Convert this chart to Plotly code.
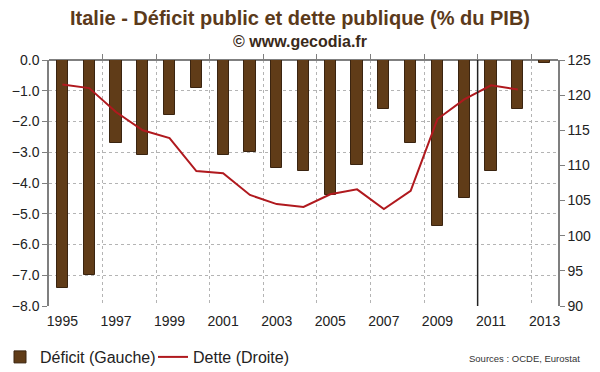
import plotly.graph_objects as go

years = list(range(1995, 2014))
deficit = [-7.4, -7.0, -2.7, -3.1, -1.8, -0.9, -3.1, -3.0, -3.5, -3.6,
           -4.4, -3.4, -1.6, -2.7, -5.4, -4.5, -3.6, -1.6, -0.1]
debt_years = list(range(1995, 2013))
debt = [121.5, 121.0, 117.6, 115.0, 113.9, 109.2, 108.9, 105.8, 104.5, 104.1,
        105.9, 106.6, 103.8, 106.4, 116.6, 119.4, 121.4, 120.8]
year_ticks = list(range(1995, 2014, 2))
grid_x = [y + 0.5 for y in range(1996, 2013, 2)]
marker_year = 2010.5

FONT = "Liberation Sans, Arial, sans-serif"
BROWN = "#603C18"
RED = "#B0191E"
GRID = "#B4B4B4"
AXIS = "#7F7F7F"
W, H = 600, 372
L, R, T, B = 49, 42, 60, 66
PW, PH = W - L - R, H - T - B


def px(x):
    return (x - L) / PW


def py(y):
    return (H - B - y) / PH


fig = go.Figure()
fig.add_trace(go.Bar(
    x=years, y=deficit, name="Déficit (Gauche)", width=0.42,
    marker=dict(color=BROWN, line=dict(color="#3A2410", width=1)),
    xaxis="x", yaxis="y",
))
fig.add_trace(go.Scatter(
    x=debt_years, y=debt, name="Dette (Droite)", mode="lines",
    line=dict(color=RED, width=2),
    xaxis="x2", yaxis="y2",
))

fig.add_shape(type="line", xref="x", yref="paper", x0=marker_year, x1=marker_year,
              y0=0, y1=1, line=dict(color="#222222", width=1.5))

fig.update_layout(
    width=W, height=H,
    margin=dict(l=L, r=R, t=T, b=B, autoexpand=False),
    paper_bgcolor="white", plot_bgcolor="white",
    font=dict(family=FONT, size=14, color="#222222"),
    bargap=0,
    showlegend=True,
    legend=dict(orientation="h", xref="container", yref="container",
                x=-6 / W, y=1 - 357 / H, xanchor="left", yanchor="middle",
                font=dict(size=16, color="#222222"),
                entrywidthmode="pixels", entrywidth=108,
                tracegroupgap=0, bgcolor="rgba(0,0,0,0)"),
    xaxis=dict(range=[1994.5, 2013.5], tickvals=year_ticks, showgrid=False,
               showline=False, ticks="", zeroline=False, tickfont=dict(size=14),
               ticklabelstandoff=5, automargin=False),
    xaxis2=dict(range=[1994.5, 2013.5], overlaying="x", side="top", anchor="y",
                tickvals=grid_x, showticklabels=False, ticks="outside", ticklen=5,
                tickcolor=AXIS, showgrid=True, gridcolor=GRID, griddash="dot",
                gridwidth=1, showline=False, zeroline=False, automargin=False),
    yaxis=dict(range=[-8, 0], dtick=1, tickformat=".1f", showgrid=True,
               gridcolor=GRID, griddash="dot", gridwidth=1,
               showline=True, linecolor=AXIS, linewidth=1.5, ticks="outside",
               ticklen=5, tickcolor=AXIS, zeroline=True, zerolinecolor=AXIS,
               zerolinewidth=1.5, tickfont=dict(size=14), automargin=False),
    yaxis2=dict(range=[90, 125], dtick=5, overlaying="y", side="right", anchor="x2",
                showgrid=False, showline=True, linecolor=AXIS, linewidth=1.5,
                ticks="outside", ticklen=5, tickcolor=AXIS, zeroline=False,
                tickfont=dict(size=14), automargin=False),
    annotations=[
        dict(text="<b>Italie - Déficit public et dette publique (% du PIB)</b>",
             xref="paper", yref="paper", x=px(W / 2), y=py(18),
             xanchor="center", yanchor="middle", showarrow=False,
             font=dict(size=20, color="#5B3A1A", family=FONT)),
        dict(text="<b>© www.gecodia.fr</b>", xref="paper", yref="paper",
             x=px(W / 2), y=py(42), xanchor="center", yanchor="middle",
             showarrow=False, font=dict(size=16, color="#3A2A1A", family=FONT)),
        dict(text="Sources : OCDE, Eurostat", xref="paper", yref="paper",
             x=px(582), y=py(358), xanchor="right", yanchor="middle",
             showarrow=False, font=dict(size=9.5, color="#333333", family=FONT)),
    ],
)

fig.write_html("out.html",
               config={"displayModeBar": False},
               post_script="document.body.style.margin='0';"
                           "document.body.style.overflow='hidden';")
